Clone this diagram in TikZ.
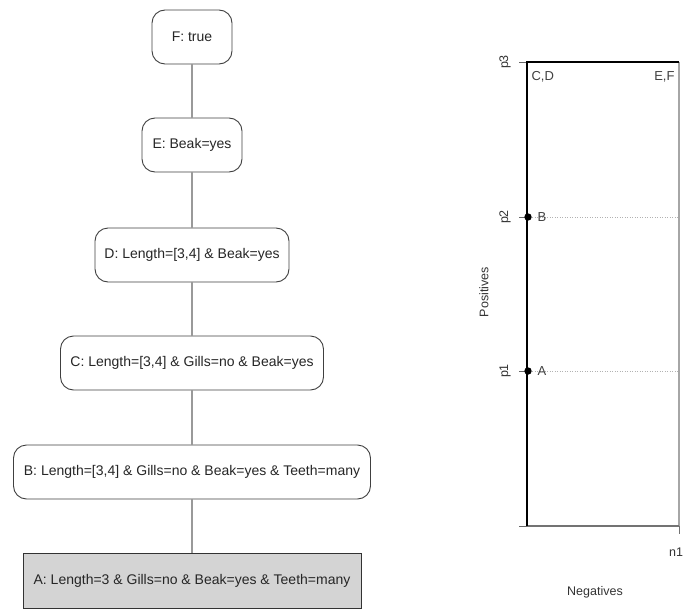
\documentclass[tikz,border=0pt]{standalone}
\usepackage{fontspec}
\setmainfont{Liberation Sans}
\begin{document}
\begin{tikzpicture}[x=1pt,y=-1pt,
  rule/.style={draw=black!75,line width=0.9pt,rounded corners=13pt,fill=white,
    minimum height=54pt,font=\fontsize{14}{16}\selectfont,inner sep=0pt,text=black!85},
  target/.style={draw=black!80,line width=0.9pt,fill=black!17,
    minimum height=55pt,font=\fontsize{14}{16}\selectfont,inner sep=0pt,text=black!85},
  link/.style={draw=black!40,line width=1.6pt},
  tick/.style={font=\fontsize{12.5}{14}\selectfont,text=black!80},
  pointlab/.style={font=\fontsize{13}{15}\selectfont,text=black!75},
  grid/.style={draw=black!30,line width=0.5pt,dotted}]
\useasboundingbox (0,0) rectangle (685,610);

% refinement chain of rules
\node[rule,minimum width=80pt]  (F) at (192,37)  {F: true};
\node[rule,minimum width=100pt] (E) at (192,145) {E: Beak=yes};
\node[rule,minimum width=194pt] (D) at (192,255) {D: Length=[3,4] \& Beak=yes};
\node[rule,minimum width=263pt] (C) at (192,363) {C: Length=[3,4] \& Gills=no \& Beak=yes};
\node[rule,minimum width=357pt] (B) at (192,472) {B: Length=[3,4] \& Gills=no \& Beak=yes \& Teeth=many};
\node[target,minimum width=338pt] (A) at (192,580.5) {A: Length=3 \& Gills=no \& Beak=yes \& Teeth=many};

\draw[link] (F.south) -- (E.north);
\draw[link] (E.south) -- (D.north);
\draw[link] (D.south) -- (C.north);
\draw[link] (C.south) -- (B.north);
\draw[link] (B.south) -- (A.north);

% coverage space
\coordinate (O)  at (527,526);
\coordinate (P1) at (527,371);
\coordinate (P2) at (527,217);
\coordinate (P3) at (527,62);
\coordinate (N1) at (679,526);
\coordinate (TR) at (679,62);

\draw[grid] (P1) -- (N1 |- P1);
\draw[grid] (P2) -- (N1 |- P2);
\draw[draw=black!35,line width=1.2pt] (TR) -- (N1);
\draw[draw=black!55,line width=1.2pt] (O) -- (N1);
\draw[draw=black!55,line width=0.8pt] (N1) -- ++(0,8);
\foreach \c in {O,P1,P2,P3}
  \draw[draw=black!60,line width=0.8pt] (\c) -- ++(-8,0);
\draw[line width=2.4pt,line join=miter] (O) -- (P3) -- (TR);

\fill (P1) ++(1,0) circle (3.7pt);
\fill (P2) ++(1,0) circle (3.7pt);

\node[tick,rotate=90] (lp1) at (505,371) {p1};
\node[tick,rotate=90] (lp2) at (505,217) {p2};
\node[tick,rotate=90] (lp3) at (505,62)  {p3};
\node[tick] (ln1) at (676,552) {n1};
\node[tick,rotate=90] (ypos) at (484,292) {Positives};
\node[tick] (xneg) at (595,592) {Negatives};

\node[pointlab,anchor=west] (lA)  at (534,371) {A};
\node[pointlab,anchor=west] (lB)  at (534,217) {B};
\node[pointlab,anchor=west] (lCD) at (528,77)  {C,D};
\node[pointlab,anchor=east] (lEF) at (678,77)  {E,F};
\end{tikzpicture}
\end{document}
